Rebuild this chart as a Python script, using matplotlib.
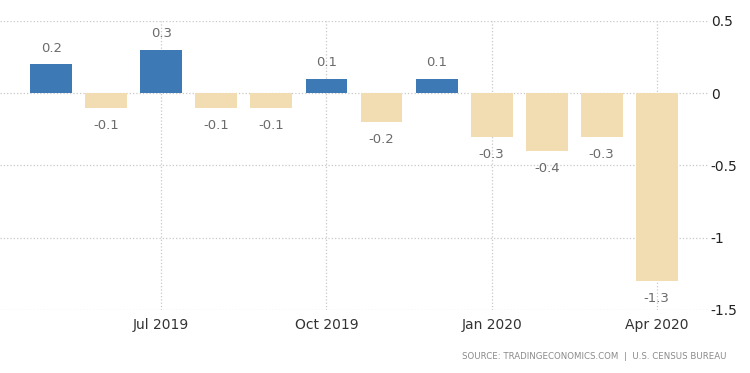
import matplotlib
matplotlib.use('Agg')
import matplotlib.pyplot as plt
import numpy as np

months = ["May 2019", "Jun 2019", "Jul 2019", "Aug 2019", "Sep 2019", "Oct 2019",
          "Nov 2019", "Dec 2019", "Jan 2020", "Feb 2020", "Mar 2020", "Apr 2020"]
values = [0.2, -0.1, 0.3, -0.1, -0.1, 0.1, -0.2, 0.1, -0.3, -0.4, -0.3, -1.3]
tick_idx = [2, 5, 8, 11]
tick_labels = ["Jul 2019", "Oct 2019", "Jan 2020", "Apr 2020"]
y_ticks = [0.5, 0, -0.5, -1, -1.5]
y_tick_labels = ["0.5", "0", "-0.5", "-1", "-1.5"]

pos_color = "#3d79b4"
neg_color = "#f2dcb1"

fig = plt.figure(figsize=(7.5, 3.73), dpi=100)
ax = fig.add_axes([0.0, 0.169, 0.944, 0.775])

x = np.arange(len(values))
colors = [pos_color if v >= 0 else neg_color for v in values]
ax.bar(x, values, width=0.76, color=colors, zorder=3)

for xi, v in zip(x, values):
    if v >= 0:
        ax.annotate(f"{v:g}", xy=(xi, v), xytext=(0, 7), textcoords='offset points',
                    ha='center', va='bottom', fontsize=9.5, color="#6b6b6b")
    else:
        ax.annotate(f"{v:g}", xy=(xi, v), xytext=(0, -8), textcoords='offset points',
                    ha='center', va='top', fontsize=9.5, color="#6b6b6b")

ax.set_xlim(-0.93, 11.93)
ax.set_ylim(-1.5, 0.5)
ax.set_xticks(tick_idx)
ax.set_xticklabels(tick_labels, fontsize=10, color="#333333")
ax.set_yticks(y_ticks)
ax.set_yticklabels(y_tick_labels, fontsize=10, color="#222222")
ax.yaxis.tick_right()
ax.tick_params(axis='both', length=0)
ax.tick_params(axis='x', pad=6)
ax.tick_params(axis='y', pad=2)

ax.grid(True, color="#c8c8c8", linestyle=':', linewidth=0.9, zorder=0)
ax.set_axisbelow(True)
for s in ax.spines.values():
    s.set_visible(False)

fig.text(0.968, 0.045, "SOURCE: TRADINGECONOMICS.COM  |  U.S. CENSUS BUREAU",
         ha='right', va='center', fontsize=6.2, color="#8a8a8a")

fig.savefig("out.png", dpi=100, facecolor='white')
